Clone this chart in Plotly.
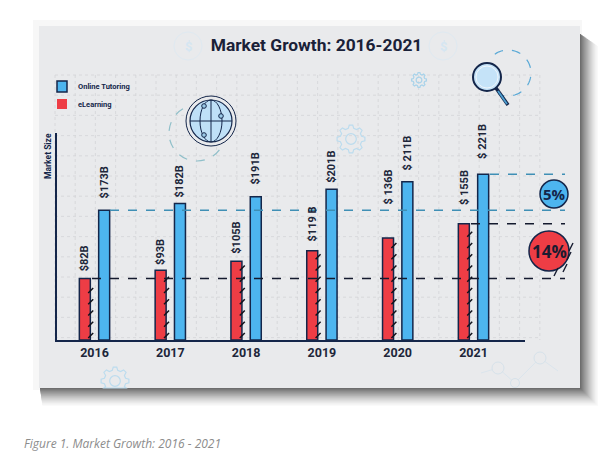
import math
import plotly.graph_objects as go

W, H = 613, 474

years = ['2016', '2017', '2018', '2019', '2020', '2021']
online_tutoring = [173, 182, 191, 201, 211, 221]
elearning = [82, 93, 105, 119, 136, 155]
online_labels = ['$173B', '$182B', '$191B', '$201B', '$ 211B', '$ 221B']
elearning_labels = ['$82B', '$93B', '$105B', '$119 B', '$ 136B', '$ 155B']

DARK = '#14264a'
RED = '#ee3d45'
BLUE = '#4db5ef'
CARD = '#e9eaec'
PALE = '#bcdcee'


def px(x):
    return x / W


def py(y):
    return 1 - y / H


def rect(x0, y0, x1, y1, fill, line=None, width=0):
    return dict(type='rect', xref='paper', yref='paper', x0=px(x0), x1=px(x1), y0=py(y0), y1=py(y1),
                fillcolor=fill, line=dict(color=line or fill, width=width), layer='below')


def circle(cx, cy, r, fill='rgba(0,0,0,0)', line=DARK, width=1.5, dash='solid', rx=None, layer='below'):
    rx = r if rx is None else rx
    return dict(type='circle', xref='paper', yref='paper', x0=px(cx - rx), x1=px(cx + rx),
                y0=py(cy - r), y1=py(cy + r), fillcolor=fill,
                line=dict(color=line, width=width, dash=dash), layer=layer)


def seg(x0, y0, x1, y1, color=DARK, width=1.5, dash='solid', layer='below'):
    return dict(type='line', xref='paper', yref='paper', x0=px(x0), x1=px(x1), y0=py(y0), y1=py(y1),
                line=dict(color=color, width=width, dash=dash), layer=layer)


def poly(points, color, width=1, dash='solid', closed=False):
    # shape paths in paper coords need the pixel -> fraction conversion done by hand
    d = 'M ' + ' L '.join(f'{px(x):.5f} {py(y):.5f}' for x, y in points)
    if closed:
        d += ' Z'
    return dict(type='path', xref='paper', yref='paper', path=d,
                line=dict(color=color, width=width, dash=dash), layer='below')


def arc(cx, cy, r, a0, a1, color, width=1.2, dash='dash'):
    steps = 40
    pts = []
    for k in range(steps + 1):
        a = math.radians(a0 + (a1 - a0) * k / steps)
        pts.append((cx + r * math.cos(a), cy + r * math.sin(a)))
    return poly(pts, color, width, dash)


def gear(cx, cy, r, teeth=8, color=PALE, clip_y=388):
    pts = []
    for k in range(teeth):
        step = 2 * math.pi / teeth
        base = k * step
        for frac, rad in [(-0.32, 0.78), (-0.16, 1.0), (0.16, 1.0), (0.32, 0.78)]:
            a = base + frac * step
            pts.append((cx + r * rad * math.cos(a), min(cy + r * rad * math.sin(a), clip_y)))
    out = [poly(pts, color, 1.2, closed=True)]
    out.append(circle(cx, cy, r * 0.38, line=color, width=1.2))
    return out


shapes = []

# --- card shadow, outer to inner ---
shapes.append(rect(33, 20, 582, 390, '#f7f7f7'))
for k in range(20):
    t = k / 19
    grey = int(250 - (t ** 1.3) * 140)
    c = f'rgb({grey},{grey},{grey})'
    d = 18 - k * 0.9
    inset = (1 - t) * 12
    shapes.append(rect(40 + inset * 0.2, 34 + inset, 580 + d, 388 + d, c))
shapes.append(rect(39, 26, 580, 388, CARD))

# --- dotted background grid ---
gx = [55 + 20.2 * k for k in range(25)]
gy = [75 + 20.2 * k for k in range(14)]
for x in gx:
    shapes.append(seg(x, 75, x, 340, color='#d3d4d8', width=0.8, dash='dot'))
for y in gy:
    shapes.append(seg(55, y, 540, y, color='#d3d4d8', width=0.8, dash='dot'))

# --- pale decorations ---
shapes.append(circle(188, 46, 14, line='#dfe9f1', width=1))
shapes.append(circle(443, 46, 14, line='#dfe9f1', width=1))
shapes += gear(351, 139, 14)
shapes += gear(419, 80, 7.5, color='#a9d3ea')
shapes += gear(115, 381, 14)
shapes.append(poly([(481, 373), (498, 368), (515, 383), (540, 358), (558, 371)], '#dbe5ec', 1))
shapes.append(circle(498, 368, 6, fill=CARD, line='#d6e2ea', width=1))
shapes.append(circle(515, 383, 4.5, fill=CARD, line='#d6e2ea', width=1))
shapes.append(circle(540, 358, 6, fill=CARD, line='#d6e2ea', width=1))

# --- globe ---
shapes.append(circle(197, 133, 28, line='#8fbfc9', width=1.2, dash='dash'))
shapes.append(circle(211, 121, 25, fill=CARD, line=DARK, width=1))
shapes.append(circle(211, 121, 21, fill='#bfe0f7', line=DARK, width=1.2))
shapes.append(circle(211, 121, 21, rx=11, line=DARK, width=1))
shapes.append(seg(211, 100, 211, 142, width=1))
shapes.append(seg(190, 121, 232, 121, width=1))
for dx, dy in [(-7, -15), (10, -5), (-7, 14)]:
    shapes.append(circle(211 + dx, 121 + dy, 2.3, fill='#9ccbe8', line=DARK, width=1))

# --- magnifier ---
shapes.append(arc(508, 73, 23, -125, 115, '#5aa9d6'))
shapes.append(seg(496, 88, 508, 105, color=DARK, width=3.5))
shapes.append(seg(498, 91, 507, 104, color='#4d9fd1', width=1.8))
shapes.append(circle(487, 77, 14, fill='#c5e3f8', line=DARK, width=2))
shapes.append(circle(487, 77, 11, line='#f0f6fb', width=1))

# --- legend swatches ---
shapes.append(rect(57, 81, 67, 92, BLUE, line=DARK, width=1.5))
shapes.append(rect(57, 99, 67, 109, RED))

# --- reference lines, y taken from the series ---
for val, x0, color in [(online_tutoring[0], 110, '#3f8fb5'), (online_tutoring[5], 490, '#3f8fb5'),
                       (elearning[0], 92, '#141a2e'), (elearning[5], 471, '#141a2e')]:
    shapes.append(dict(type='line', xref='paper', yref='y', x0=px(x0), x1=px(565), y0=val, y1=val,
                       line=dict(color=color, width=1.3, dash='dash'), layer='above'))

# --- percent badges ---
shapes.append(circle(554, 194, 14, fill=BLUE, line=DARK, width=1.5, layer='above'))
shapes.append(circle(549, 251, 20, fill=RED, line=DARK, width=1.5, layer='above'))
for x, y in [(571, 247), (569, 256), (565, 268), (556, 272)]:
    shapes.append(seg(x - 2, y + 4, x + 2, y - 4, color='#141a2e', width=1.4, layer='above'))

# x axis position: category i sits at 94.5 + 75.8 i pixels
x_range = [(57 - 94.5) / 75.8, (525 - 94.5) / 75.8]
y_max = (340 - 133) / 0.75
idx = list(range(len(years)))
red_off, blue_off = -0.2, 0.055
bar_w = 0.145

fig = go.Figure()
fig.add_trace(go.Bar(
    x=idx, y=elearning, name='eLearning', width=bar_w, offset=red_off, showlegend=False,
    marker=dict(color=RED, line=dict(color=DARK, width=1.5)),
))
fig.add_trace(go.Bar(
    x=idx, y=online_tutoring, name='Online Tutoring', width=bar_w, offset=blue_off, showlegend=False,
    marker=dict(color=BLUE, line=dict(color=DARK, width=1.5)),
))

# little hatch strokes down the right edge of the red bars
hatch_x, hatch_y = [], []
for i, val in zip(idx, elearning):
    level = 6
    while level < val - 4:
        hatch_x.append(i - 0.05)
        hatch_y.append(level)
        level += 15
fig.add_trace(go.Scatter(
    x=hatch_x, y=hatch_y, mode='markers', showlegend=False, hoverinfo='skip',
    marker=dict(symbol='line-ne', size=5, line=dict(color='#11131c', width=1.5)),
))

notes = [
    dict(text='Market Size', x=px(48), y=py(156), textangle=-90, font=dict(family='Roboto', size=8.5, color=DARK, weight=700)),
    dict(text='Online Tutoring', x=px(76), y=py(86), xanchor='left', font=dict(family='Roboto', size=7.5, color=DARK, weight=700)),
    dict(text='eLearning', x=px(76), y=py(104), xanchor='left', font=dict(family='Roboto', size=7.5, color=DARK, weight=700)),
    dict(text='5%', x=px(554), y=py(194), font=dict(family='Open Sans', size=15, color=DARK, weight=700)),
    dict(text='14%', x=px(549), y=py(251), font=dict(family='Open Sans', size=17, color='#1b1b30', weight=700)),
    dict(text='$', x=px(188), y=py(46), font=dict(family='Roboto', size=13, color='#d5e6f2', weight=700)),
    dict(text='$', x=px(443), y=py(46), font=dict(family='Roboto', size=13, color='#d5e6f2', weight=700)),
    dict(text='Figure 1. Market Growth: 2016 - 2021', x=px(22), y=py(443), xanchor='left',
         font=dict(family='Open Sans', size=12, color='#8c8c8c', style='italic')),
]
for n in notes:
    n.setdefault('xanchor', 'center')
    n.update(xref='paper', yref='paper', showarrow=False, yanchor='middle')

# the value labels sit at uneven distances above their bars
red_gaps = [5, 3, 6, 7, 31, 17]
blue_gaps = [10, 4, 10, 4, 9, 13]
label_font = dict(family='Roboto', size=11, color='#20263a', weight=700)
for vals, labels, gaps, off in [(elearning, elearning_labels, red_gaps, red_off),
                                (online_tutoring, online_labels, blue_gaps, blue_off)]:
    for i, val, label, gap in zip(idx, vals, labels, gaps):
        notes.append(dict(text=label, x=i + off + bar_w / 2, y=val, xref='x', yref='y', yshift=gap,
                          xanchor='center', yanchor='bottom', textangle=-90, showarrow=False, font=label_font))

fig.update_layout(
    width=W, height=H,
    margin=dict(l=0, r=0, t=0, b=0),
    paper_bgcolor='white', plot_bgcolor='rgba(0,0,0,0)',
    barmode='overlay',
    title=dict(text='Market Growth: 2016-2021', x=px(316.5), xanchor='center', y=py(45), yanchor='middle',
               font=dict(family='Roboto', size=17.4, color='#1a2138', weight=700)),
    xaxis=dict(domain=[px(57), px(525)], range=x_range, tickmode='array', tickvals=idx, ticktext=years,
               showgrid=False, zeroline=False, showline=True, linecolor=DARK, linewidth=1.5, ticks='',
               tickfont=dict(family='Roboto', size=12.5, color='#20263a', weight=700)),
    yaxis=dict(domain=[py(340), py(133)], range=[0, y_max], showgrid=False, zeroline=False,
               showline=True, linecolor=DARK, linewidth=1.5, ticks='', showticklabels=False),
    shapes=shapes,
    annotations=notes,
)

fig.write_html('out.html', config={'displayModeBar': False}, post_script="document.body.style.margin='0';")
